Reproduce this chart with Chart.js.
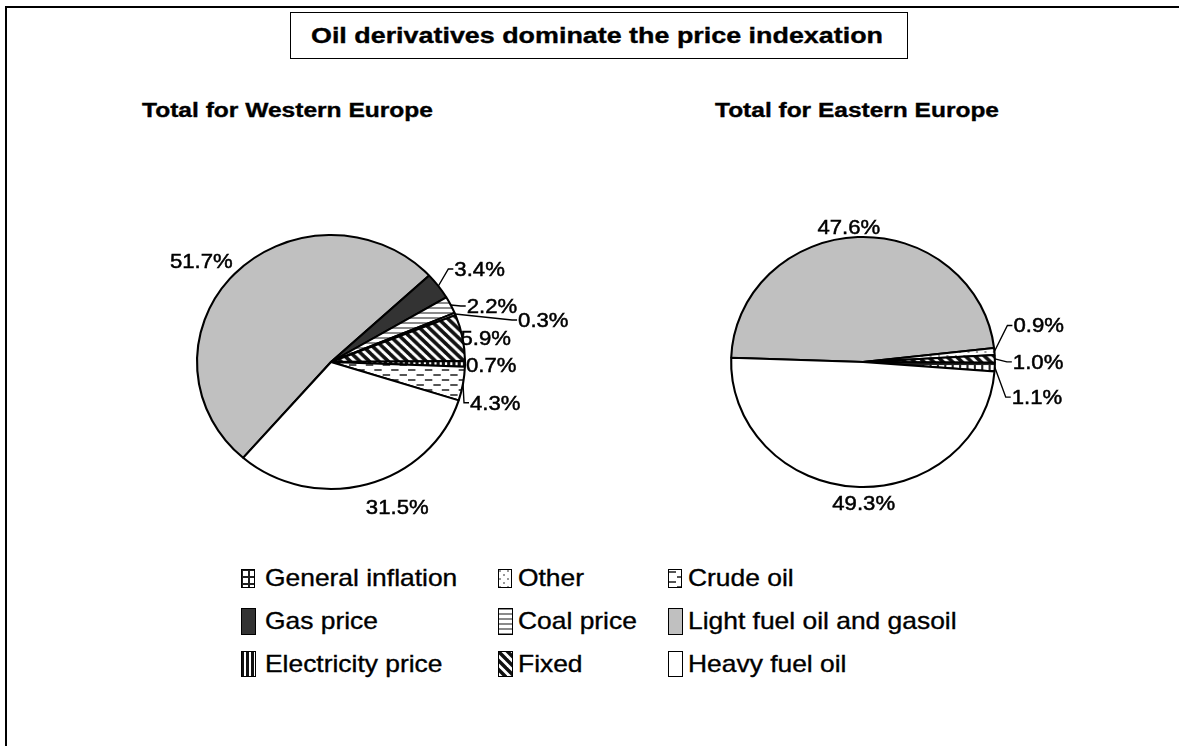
<!DOCTYPE html>
<html>
<head>
<meta charset="utf-8">
<title>Oil derivatives dominate the price indexation</title>
<script src="https://cdn.jsdelivr.net/npm/chart.js@4.4.1/dist/chart.umd.min.js"></script>
<style>
    body { margin: 0; background: #fff; font-family: "Liberation Sans", Arial, sans-serif; }
    #page { position: relative; width: 1179px; height: 746px; overflow: hidden; background: #fff; }
    #frame { position: absolute; left: 5px; top: 6px; right: -10px; bottom: -10px; border-top: 2px solid #000; border-left: 2px solid #000; }
    #titleBox { position: absolute; left: 290px; top: 12px; width: 616px; height: 45px; border: 1px solid #000; }
    .txt { position: absolute; white-space: pre; line-height: 1; transform-origin: 0 50%; color: #000; }
    .heavy { -webkit-text-stroke: 0.35px #000; }
    canvas { position: absolute; }
</style>
</head>
<body>
<div id="page">
    <div id="frame"></div>
    <div id="titleBox"></div>
    <canvas id="westChart" width="480" height="320" style="left:91px; top:202px"></canvas>
    <canvas id="eastChart" width="420" height="320" style="left:653px; top:202px"></canvas>
</div>
<script>
// data (shares in %)
const categories = ['Light fuel oil and gasoil', 'Gas price', 'Coal price', 'Other', 'Fixed', 'Electricity price', 'General inflation', 'Crude oil', 'Heavy fuel oil']
const westShares = [51.7, 3.4, 2.2, 0.3, 5.9, 0.7, 0, 4.3, 31.5]
const eastShares = [47.6, 0, 0, 0.9, 1.0, 0, 1.1, 0, 49.3]
const legendRows = [
    ['General inflation', 'Other', 'Crude oil'],
    ['Gas price', 'Coal price', 'Light fuel oil and gasoil'],
    ['Electricity price', 'Fixed', 'Heavy fuel oil']
]
const chartTitle = 'Oil derivatives dominate the price indexation'
const westTitle = 'Total for Western Europe'
const eastTitle = 'Total for Eastern Europe'

const page = document.getElementById('page')
const stretch = 1.055

const fillKinds = {
    'General inflation': 'grid',
    'Gas price': 'gas',
    'Electricity price': 'vstripes',
    'Other': 'dots',
    'Coal price': 'hstripes',
    'Fixed': 'diagonal',
    'Crude oil': 'dashes',
    'Light fuel oil and gasoil': 'light',
    'Heavy fuel oil': 'heavy'
}

const makeTile = (kind) => {
    const c = document.createElement('canvas')
    const g = c.getContext('2d')
    const size = {grid: [7, 7], vstripes: [5, 4], dots: [8, 8], hstripes: [4, 5], diagonal: [9, 9], dashes: [16, 10]}[kind]
    c.width = size[0]
    c.height = size[1]
    g.fillStyle = '#fff'
    g.fillRect(0, 0, c.width, c.height)
    if (kind === 'grid') {
        g.fillStyle = '#222'
        g.fillRect(0, 0, 7, 2)
        g.fillRect(0, 0, 2, 7)
    } else if (kind === 'vstripes') {
        g.fillStyle = '#111'
        g.fillRect(0, 0, 3, 4)
    } else if (kind === 'dots') {
        g.fillStyle = '#999'
        g.fillRect(1, 1, 2, 2)
        g.fillRect(5, 5, 2, 2)
    } else if (kind === 'hstripes') {
        g.fillStyle = '#8a8a8a'
        g.fillRect(0, 0, 4, 2)
    } else if (kind === 'diagonal') {
        g.strokeStyle = '#111'
        g.lineWidth = 3.5
        for (const o of [-9, 0, 9]) {
            g.beginPath()
            g.moveTo(o - 1, -1)
            g.lineTo(o + 10, 10)
            g.stroke()
        }
    } else if (kind === 'dashes') {
        g.fillStyle = '#555'
        g.fillRect(1, 2, 7, 2)
        g.fillRect(9, 7, 7, 2)
    }
    return c
}

const fillFor = (ctx, name) => {
    const kind = fillKinds[name]
    if (kind === 'gas') return '#333333'
    if (kind === 'light') return '#c0c0c0'
    if (kind === 'heavy') return '#ffffff'
    return ctx.createPattern(makeTile(kind), 'repeat')
}

// draws the pie a little wider than tall, like the original
const ellipse = {
    id: 'ellipse',
    beforeDatasetsDraw(chart, args, opts) {
        const arc = chart.getDatasetMeta(0).data[0]
        const ctx = chart.ctx
        ctx.save()
        ctx.translate(arc.x, arc.y)
        ctx.scale(opts.stretch, 1)
        ctx.translate(-arc.x, -arc.y)
    },
    afterDatasetsDraw(chart) {
        chart.ctx.restore()
    }
}

const pieLabels = {
    id: 'pieLabels',
    afterDraw(chart, args, opts) {
        const ctx = chart.ctx
        const values = chart.data.datasets[0].data
        chart.getDatasetMeta(0).data.forEach((arc, i) => {
            const spot = opts.spots[chart.data.labels[i]]
            if (!values[i] || !spot) return
            const mid = (arc.startAngle + arc.endAngle) / 2
            const px = arc.x + opts.stretch * arc.outerRadius * Math.cos(mid)
            const py = arc.y + arc.outerRadius * Math.sin(mid)
            const tx = px + spot.dx
            const ty = py + spot.dy
            ctx.save()
            if (spot.leader) {
                ctx.strokeStyle = '#000'
                ctx.lineWidth = 1.4
                ctx.beginPath()
                ctx.moveTo(px, py)
                ctx.lineTo(tx - 6, ty)
                ctx.lineTo(tx - 1, ty)
                ctx.stroke()
            }
            ctx.translate(tx, ty)
            ctx.scale(opts.stretch, 1)
            ctx.font = '21px "Liberation Sans", Arial, sans-serif'
            ctx.fillStyle = '#000'
            ctx.strokeStyle = '#000'
            ctx.lineWidth = 0.5
            ctx.textAlign = spot.align
            ctx.textBaseline = 'middle'
            const text = values[i].toFixed(1) + '%'
            ctx.fillText(text, 0, 1)
            ctx.strokeText(text, 0, 1)
            ctx.restore()
        })
    }
}

const drawPie = (id, values, rotation, radius, spots) => {
    const ctx = document.getElementById(id).getContext('2d')
    return new Chart(ctx, {
        type: 'pie',
        data: {
            labels: categories,
            datasets: [{
                data: values,
                backgroundColor: categories.map(name => fillFor(ctx, name)),
                borderColor: '#000',
                borderWidth: 2,
                hoverOffset: 0
            }]
        },
        options: {
            responsive: false,
            animation: false,
            events: [],
            rotation: rotation,
            radius: radius,
            layout: {padding: 0},
            plugins: {
                legend: {display: false},
                tooltip: {enabled: false},
                ellipse: {stretch: stretch},
                pieLabels: {stretch: stretch, spots: spots}
            }
        },
        plugins: [ellipse, pieLabels]
    })
}

// label offsets from the rim point at the middle of each slice
drawPie('westChart', westShares, 221, 127, {
    'Light fuel oil and gasoil': {dx: -2, dy: -12, align: 'right'},
    'Gas price': {dx: 16, dy: -17, align: 'left', leader: true},
    'Coal price': {dx: 16, dy: 1, align: 'left', leader: true},
    'Other': {dx: 63, dy: 6, align: 'left', leader: true},
    'Fixed': {dx: -2, dy: 0, align: 'left'},
    'Electricity price': {dx: 1, dy: 1, align: 'left'},
    'Crude oil': {dx: 7, dy: 19, align: 'left', leader: true},
    'Heavy fuel oil': {dx: 30, dy: 23, align: 'center'}
})

drawPie('eastChart', eastShares, 272, 125, {
    'Light fuel oil and gasoil': {dx: -9, dy: -10, align: 'center'},
    'Other': {dx: 19, dy: -26, align: 'left', leader: true},
    'Fixed': {dx: 18, dy: 3, align: 'left', leader: true},
    'General inflation': {dx: 17, dy: 30, align: 'left', leader: true},
    'Heavy fuel oil': {dx: 8, dy: 16, align: 'center'}
})

const placeText = (str, opts) => {
    const el = document.createElement('div')
    el.className = 'txt' + (opts.heavy ? ' heavy' : '')
    el.textContent = str
    el.style.fontSize = opts.size + 'px'
    el.style.fontWeight = opts.bold ? 'bold' : 'normal'
    page.appendChild(el)
    const natural = el.getBoundingClientRect().width
    const k = opts.width ? opts.width / natural : (opts.stretch || 1)
    const w = natural * k
    const left = opts.align === 'center' ? opts.x - w / 2 : opts.x
    el.style.left = left + 'px'
    el.style.top = (opts.cy - opts.size / 2) + 'px'
    el.style.transform = `scaleX(${k})`
    return el
}

placeText(chartTitle, {x: 597, cy: 36, size: 22, bold: true, width: 572, align: 'center', heavy: true})
placeText(westTitle, {x: 142, cy: 110, size: 20, bold: true, width: 291, heavy: true})
placeText(eastTitle, {x: 857, cy: 110, size: 20, bold: true, width: 284, align: 'center', heavy: true})

// legend, three columns
const legendCols = [{swatch: 241, text: 265}, {swatch: 498, text: 518}, {swatch: 668, text: 688}]
const legendRowY = [578, 621, 664]
const swatchSizes = [[14, 19], [15, 27], [15, 26]]

legendRows.forEach((row, r) => {
    row.forEach((name, c) => {
        const [w, h] = swatchSizes[r]
        const sw = document.createElement('canvas')
        sw.width = w
        sw.height = h
        sw.style.left = legendCols[c].swatch + 'px'
        sw.style.top = Math.round(legendRowY[r] - h / 2) + 'px'
        page.appendChild(sw)
        const g = sw.getContext('2d')
        g.fillStyle = fillFor(g, name)
        g.fillRect(0, 0, w, h)
        g.strokeStyle = '#000'
        g.lineWidth = 1
        g.strokeRect(0.5, 0.5, w - 1, h - 1)
        placeText(name, {x: legendCols[c].text, cy: legendRowY[r], size: 24, stretch: 1.1, heavy: true})
    })
})
</script>
</body>
</html>
